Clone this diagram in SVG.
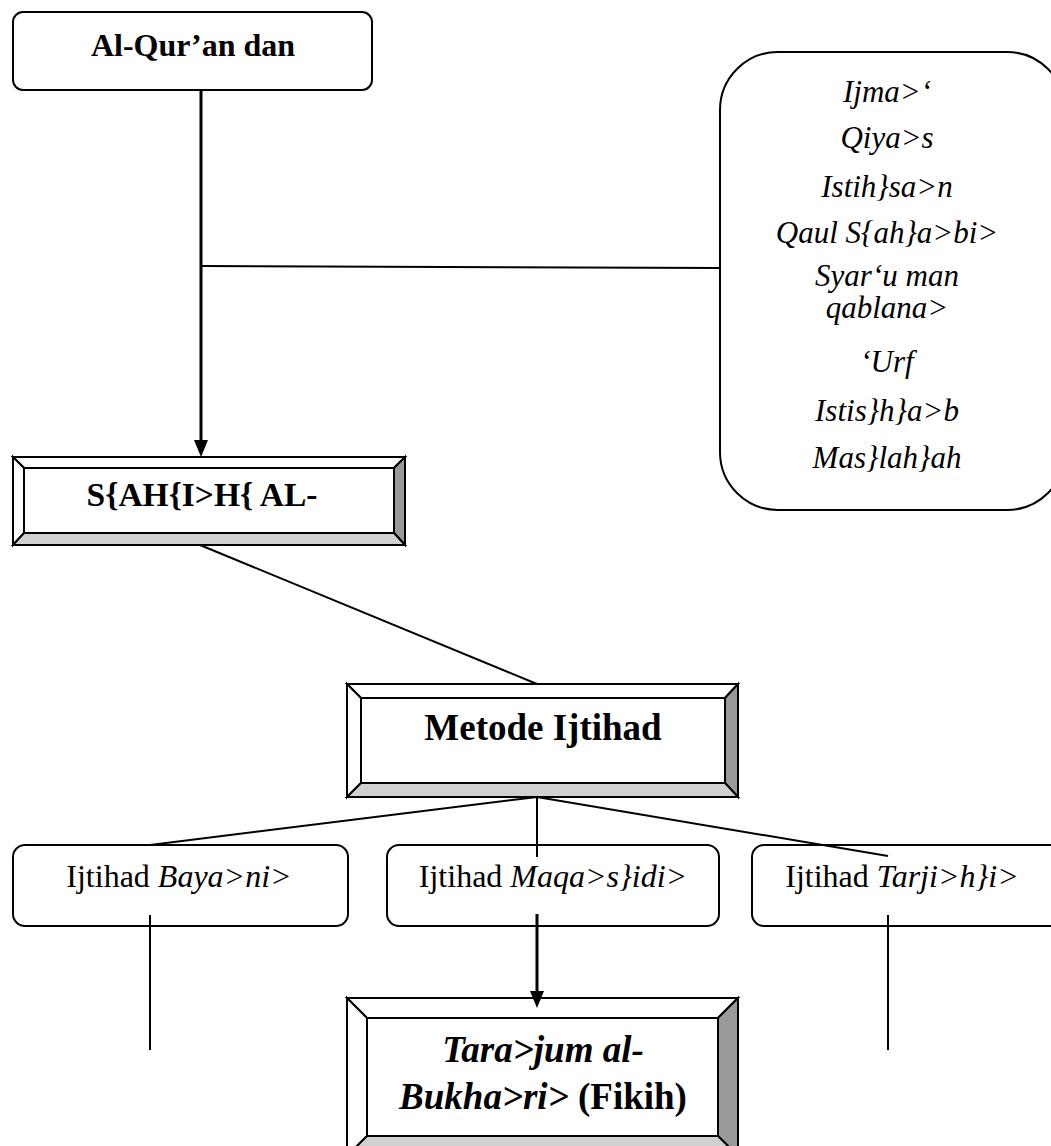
<svg xmlns="http://www.w3.org/2000/svg" width="1051" height="1146" viewBox="0 0 1051 1146">
<defs>
<style>
.box{fill:#fff;stroke:#000;stroke-width:2}
.ln{stroke:#000;stroke-width:2;fill:none}
.t{font-family:"Liberation Serif","Times New Roman",serif;fill:#000;text-anchor:middle}
.b{font-weight:bold}
.i{font-style:italic}
.lt{fill:#fff;stroke:#000;stroke-width:2;stroke-linejoin:miter}
.dk{fill:#999;stroke:#000;stroke-width:2}
.md{fill:#d0d0d0;stroke:#000;stroke-width:2}
</style>
</defs>
<rect width="1051" height="1146" fill="#fff"/>

<g id="node-quran">
<rect class="box" x="13" y="12" width="359" height="78" rx="10"/>
<text class="t b" x="193" y="56" font-size="32">Al-Qur’an dan</text>
</g>

<g id="node-sumber">
<rect class="box" x="720" y="52" width="345" height="458" rx="58"/>
<g class="t i" font-size="31">
<text x="887" y="102">Ijma&gt;‘</text>
<text x="887" y="148">Qiya&gt;s</text>
<text x="887" y="197">Istih}sa&gt;n</text>
<text x="887" y="243">Qaul S{ah}a&gt;bi&gt;</text>
<text x="887" y="286">Syar‘u man</text>
<text x="887" y="318">qablana&gt;</text>
<text x="887" y="372">‘Urf</text>
<text x="887" y="421">Istis}h}a&gt;b</text>
<text x="887" y="468">Mas}lah}ah</text>
</g>
</g>

<g id="node-sahih">
<rect class="box" x="13" y="457" width="392" height="88"/>
<polygon class="lt" points="13,457 405,457 394,468 24,468"/>
<polygon class="lt" points="13,457 24,468 24,533 13,545"/>
<polygon class="dk" points="405,457 405,545 394,533 394,468"/>
<polygon class="md" points="13,545 405,545 394,533 24,533"/>
<rect class="box" x="24" y="468" width="370" height="65"/>
<text class="t b" x="202" y="506" font-size="33.5">S{AH{I&gt;H{ AL-</text>
</g>

<g id="node-metode">
<rect class="box" x="347" y="684" width="391" height="113"/>
<polygon class="lt" points="347,684 738,684 725,698 361,698"/>
<polygon class="lt" points="347,684 361,698 361,783 347,797"/>
<polygon class="dk" points="738,684 738,797 725,783 725,698"/>
<polygon class="md" points="347,797 738,797 725,783 361,783"/>
<rect class="box" x="361" y="698" width="364" height="85"/>
<text class="t b" x="543" y="740" font-size="37">Metode Ijtihad</text>
</g>

<g id="node-bayani">
<rect class="box" x="13" y="845" width="335" height="81" rx="12"/>
<text class="t" x="179" y="887" font-size="32">Ijtihad <tspan class="i">Baya&gt;ni&gt;</tspan></text>
</g>

<g id="node-maqasidi">
<rect class="box" x="387" y="845" width="332" height="81" rx="12"/>
<text class="t" x="553" y="887" font-size="32">Ijtihad <tspan class="i">Maqa&gt;s}idi&gt;</tspan></text>
</g>

<g id="node-tarjihi">
<rect class="box" x="752" y="845" width="310" height="81" rx="12"/>
<text class="t" x="902" y="887" font-size="32">Ijtihad <tspan class="i">Tarji&gt;h}i&gt;</tspan></text>
</g>

<g id="node-tarajum">
<rect class="box" x="347" y="998" width="391" height="165"/>
<polygon class="lt" points="347,998 738,998 718,1018 367,1018"/>
<polygon class="lt" points="347,998 367,1018 367,1136 347,1156"/>
<polygon class="dk" points="738,998 738,1156 718,1136 718,1018"/>
<polygon class="md" points="347,1156 738,1156 718,1136 367,1136"/>
<rect class="box" x="367" y="1018" width="351" height="118"/>
<text class="t b i" x="543" y="1062" font-size="37">Tara&gt;jum al-</text>
<text class="t b" x="543" y="1109" font-size="37"><tspan class="i">Bukha&gt;ri&gt;</tspan> (Fikih)</text>
</g>

<g id="connectors">
<line class="ln" x1="201" y1="91" x2="201" y2="443" style="stroke-width:3"/>
<path d="M194,440 L208,440 L201,457 Z" fill="#000"/>
<line class="ln" x1="202" y1="266" x2="720" y2="268"/>
<line class="ln" x1="200" y1="545" x2="537" y2="684"/>
<line class="ln" x1="537" y1="797" x2="150" y2="845"/>
<line class="ln" x1="537" y1="797" x2="537" y2="857"/>
<line class="ln" x1="537" y1="797" x2="888" y2="856"/>
<line class="ln" x1="150" y1="915" x2="150" y2="1050"/>
<line class="ln" x1="888" y1="915" x2="888" y2="1050"/>
<line class="ln" x1="537" y1="914" x2="537" y2="993" style="stroke-width:3"/>
<path d="M530,991 L544,991 L537,1008 Z" fill="#000"/>
</g>
</svg>
